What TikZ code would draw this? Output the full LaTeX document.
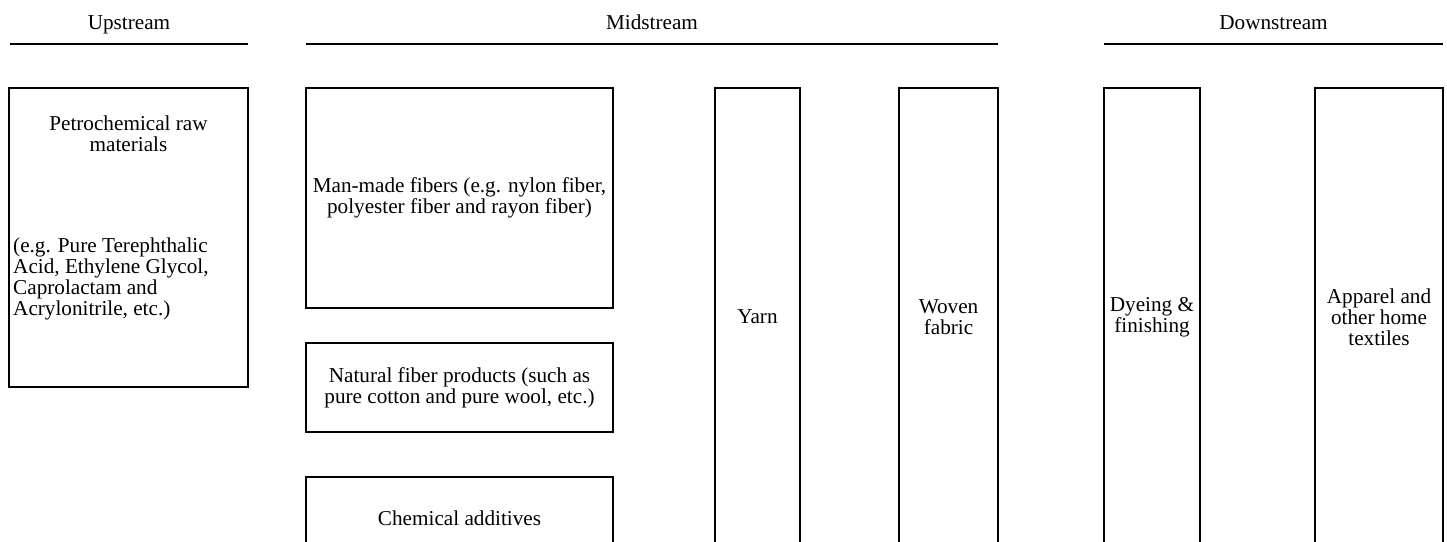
\documentclass[tikz,border=0pt]{standalone}
\usepackage{fontspec}
\setmainfont{Liberation Serif}
\usetikzlibrary{positioning}

\tikzset{
  stagebox/.style={draw, line width=2pt, align=center, inner sep=0pt},
  stagetext/.style={font=\fontsize{21.2}{21.2}\selectfont, align=center, inner sep=0pt},
  headrule/.style={line width=2pt},
}

\begin{document}
\begin{tikzpicture}[x=1pt, y=-1pt]

% Page frame (bottom of the tall boxes is cut off)
\clip (0,0) rectangle (1447,541);

% Stage headers with rules
\foreach \name/\label/\xa/\xb in {up/Upstream/10/248, mid/Midstream/306/998, down/Downstream/1104/1443} {
  \coordinate (\name-l) at (\xa,43.5);
  \coordinate (\name-r) at (\xb,43.5);
  \draw[headrule] (\name-l) -- (\name-r);
  \node[stagetext, anchor=base] (\name-head) at ({(\xa+\xb)/2},29) {\label};
}

% Upstream
\node[stagebox, minimum width=239pt, minimum height=299pt] (petro) at (128.5,237.5) {};
\node[stagetext] (petro-title) at (128.5,133.5) {Petrochemical raw\\materials};
\node[stagetext, align=left, anchor=west] (petro-eg) at (13,279)
  {(e.g. Pure Terephthalic\\Acid, Ethylene Glycol,\\Caprolactam and\\Acrylonitrile, etc.)};

% Midstream - fibre inputs
\node[stagebox, stagetext, minimum width=307pt, minimum height=220pt] (manmade) at (459.5,198)
  {Man-made fibers (e.g. nylon fiber,\\polyester fiber and rayon fiber)};
\node[stagebox, stagetext, minimum width=307pt, minimum height=89pt] (natural) at (459.5,387.5)
  {Natural fiber products (such as\\pure cotton and pure wool, etc.)};
\node[stagebox, stagetext, minimum width=307pt, minimum height=82pt] (chemical) at (459.5,518)
  {Chemical additives};

% Midstream and downstream - tall columns
\node[stagebox, stagetext, minimum width=85pt, minimum height=458pt] (yarn) at (757.5,317) {Yarn};
\node[stagebox, stagetext, minimum width=99pt, minimum height=458pt] (woven) at (948.5,317) {Woven\\fabric};
\node[stagebox, stagetext, minimum width=96pt, minimum height=458pt] (dyeing) at (1152,317) {Dyeing \&\\finishing};
\node[stagebox, stagetext, minimum width=128pt, minimum height=458pt] (apparel) at (1379,317) {Apparel and\\other home\\textiles};

\end{tikzpicture}
\end{document}
